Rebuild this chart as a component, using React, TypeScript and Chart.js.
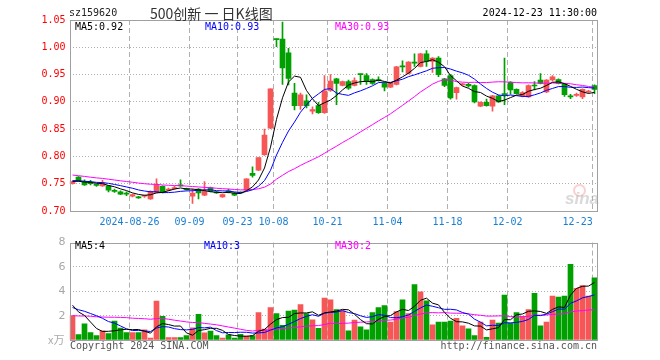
import React, { useEffect, useRef } from 'react';
import { Chart, registerables } from 'chart.js';

Chart.register(...registerables);

// ---------- data ----------
const dates = [
  '08-13','08-14','08-15','08-16','08-19','08-20','08-21','08-22','08-23','08-26','08-27','08-28','08-29','08-30',
  '09-02','09-03','09-04','09-05','09-06','09-09','09-10','09-11','09-12','09-13','09-18','09-19','09-20','09-23','09-24','09-25','09-26','09-27','09-30',
  '10-08','10-09','10-10','10-11','10-14','10-15','10-16','10-17','10-18','10-21','10-22','10-23','10-24','10-25','10-28','10-29','10-30','10-31',
  '11-01','11-04','11-05','11-06','11-07','11-08','11-11','11-12','11-13','11-14','11-15','11-18','11-19','11-20','11-21','11-22','11-25','11-26','11-27','11-28','11-29',
  '12-02','12-03','12-04','12-05','12-06','12-09','12-10','12-11','12-12','12-13','12-16','12-17','12-18','12-19','12-20','12-23',
];

const opens = [
  0.750,0.762,0.753,0.752,0.749,0.746,0.746,0.738,0.735,0.733,
  0.727,0.725,0.727,0.722,0.734,0.745,0.738,0.741,0.748,0.741,
  0.727,0.740,0.729,0.743,0.735,0.726,0.736,0.733,0.734,0.738,
  0.769,0.775,0.803,0.852,1.015,1.015,0.990,0.916,0.893,0.902,
  0.883,0.893,0.880,0.921,0.942,0.930,0.937,0.930,0.951,0.948,
  0.941,0.940,0.934,0.927,0.932,0.965,0.952,0.972,0.965,0.988,
  0.974,0.980,0.942,0.948,0.917,0.931,0.932,0.930,0.892,0.899,
  0.892,0.911,0.915,0.936,0.923,0.911,0.909,0.930,0.940,0.918,
  0.940,0.941,0.933,0.910,0.912,0.909,0.918,0.930,
];
const highs = [
  0.755,0.763,0.757,0.756,0.750,0.756,0.747,0.740,0.737,0.735,
  0.731,0.727,0.729,0.737,0.759,0.746,0.742,0.745,0.757,0.742,
  0.740,0.741,0.754,0.744,0.736,0.731,0.740,0.734,0.735,0.759,
  0.781,0.798,0.850,0.924,1.015,1.046,0.998,0.934,0.916,0.913,
  0.891,0.899,0.948,0.950,0.943,0.938,0.940,0.944,0.951,0.952,
  0.942,0.946,0.936,0.936,0.965,0.975,0.974,0.988,0.989,0.994,
  0.981,0.983,0.943,0.950,0.927,0.934,0.934,0.931,0.900,0.905,
  0.912,0.912,0.980,0.937,0.924,0.919,0.931,0.937,0.952,0.941,
  0.948,0.942,0.934,0.914,0.916,0.924,0.921,0.931,
];
const lows = [
  0.749,0.754,0.747,0.748,0.745,0.745,0.735,0.734,0.730,0.728,
  0.726,0.723,0.725,0.721,0.733,0.733,0.737,0.740,0.745,0.738,
  0.714,0.722,0.728,0.735,0.732,0.725,0.733,0.728,0.732,0.737,
  0.762,0.774,0.802,0.851,1.001,0.932,0.931,0.885,0.886,0.889,
  0.878,0.879,0.879,0.919,0.895,0.929,0.923,0.929,0.932,0.932,
  0.932,0.938,0.920,0.926,0.931,0.955,0.951,0.965,0.964,0.965,
  0.954,0.946,0.928,0.905,0.905,0.930,0.927,0.898,0.891,0.892,
  0.883,0.899,0.895,0.914,0.914,0.909,0.908,0.922,0.933,0.917,
  0.938,0.933,0.910,0.906,0.910,0.906,0.916,0.915,
];
const closes = [
  0.754,0.755,0.748,0.750,0.747,0.751,0.738,0.736,0.731,0.731,
  0.730,0.724,0.728,0.736,0.748,0.734,0.740,0.743,0.746,0.739,
  0.733,0.733,0.736,0.736,0.733,0.730,0.735,0.729,0.733,0.759,
  0.765,0.798,0.839,0.924,1.014,0.962,0.943,0.893,0.913,0.893,
  0.886,0.880,0.920,0.938,0.934,0.937,0.925,0.939,0.950,0.937,
  0.934,0.939,0.927,0.935,0.964,0.964,0.973,0.971,0.988,0.974,
  0.980,0.950,0.930,0.907,0.926,0.932,0.929,0.900,0.899,0.893,
  0.911,0.900,0.913,0.922,0.915,0.917,0.930,0.929,0.934,0.940,
  0.946,0.934,0.913,0.909,0.913,0.923,0.919,0.923,
];
// volumes (万)
const volumes = [
  2.0,0.45,1.32,0.6,0.37,0.76,0.53,1.55,0.97,0.6,
  0.6,0.6,0.84,0.16,3.2,1.95,0.2,0.2,0.2,0.37,
  1.0,2.1,0.58,0.74,0.37,0.16,0.42,0.16,0.47,0.32,
  0.37,2.26,0.9,2.66,2.18,1.21,2.37,2.45,2.9,2.18,
  1.66,0.95,3.45,3.29,2.5,2.4,0.76,1.63,1.08,0.84,
  2.26,2.66,2.82,1.47,2.34,3.29,2.18,4.55,3.95,3.21,
  1.24,1.47,1.47,1.55,1.79,1.16,0.92,0.37,1.47,0.21,
  1.63,1.4,3.68,1.4,2.26,1.95,2.5,3.84,1.16,1.47,
  3.61,3.53,3.61,6.21,4.24,4.47,3.61,5.1,
];
// sessions before the visible window (needed for the moving averages)
const priorCloses = [
  0.790,0.788,0.792,0.785,0.780,0.783,0.778,0.775,0.772,0.770,0.768,0.765,
  0.762,0.760,0.763,0.758,0.755,0.757,0.760,0.758,
  0.756,0.759,0.757,0.760,0.755,0.752,0.756,0.753,0.755,
];
const priorVolumes = [
  1.2,1.5,1.1,1.8,1.3,1.0,1.6,1.4,1.2,1.9,1.3,1.5,1.4,1.6,1.3,
  2.4,2.6,2.3,2.5,2.4,
  2.3,2.6,2.4,2.2,
  2.9,3.2,2.8,3.3,3.0,
];

const tickDates = ['08-26','09-09','09-23','10-08','10-21','11-04','11-18','12-02','12-23'];
const tickLabels = ['2024-08-26','09-09','09-23','10-08','10-21','11-04','11-18','12-02','12-23'];
const priceTicks = [0.70,0.75,0.80,0.85,0.90,0.95,1.00,1.05];
const volumeTicks = [0,2,4,6,8];

// ---------- styles ----------
const RED = '#f65656';
const GREEN = '#00a000';
const GRID = '#b0b0b0';
const FRAME = '#a0a0a0';
const MONO = '"DejaVu Sans Mono", monospace';

function movingAverage(values: number[], prior: number[], n: number): number[] {
  const all = prior.concat(values);
  return values.map((_, i) => {
    const end = prior.length + i + 1;
    const slice = all.slice(Math.max(0, end - n), end);
    return slice.reduce((a, b) => a + b, 0) / slice.length;
  });
}

const isUp = (i: number) => closes[i] >= opens[i];
const candleColors = dates.map((_, i) => (isUp(i) ? RED : GREEN));

const ma5 = movingAverage(closes, priorCloses, 5);
const ma10 = movingAverage(closes, priorCloses, 10);
const ma30 = movingAverage(closes, priorCloses, 30);
const vma5 = movingAverage(volumes, priorVolumes, 5);
const vma10 = movingAverage(volumes, priorVolumes, 10);
const vma30 = movingAverage(volumes, priorVolumes, 30);

const framePlugin = {
  id: 'frame',
  afterDraw(chart: any) {
    const { ctx, chartArea: a } = chart;
    ctx.save();
    ctx.strokeStyle = FRAME;
    ctx.lineWidth = 1;
    ctx.strokeRect(Math.round(a.left) + 0.5, Math.round(a.top) + 0.5, Math.round(a.right - a.left) - 1, Math.round(a.bottom - a.top));
    ctx.restore();
  },
};

function xScale(showLabels: boolean) {
  const max = dates.length - 0.5;
  return {
    type: 'linear',
    min: -0.5,
    max,
    offset: false,
    afterBuildTicks: (scale: any) => {
      scale.ticks = [{ value: -0.5 }].concat(
        tickDates.map((d) => ({ value: Math.min(dates.indexOf(d) + 0.5, max - 0.8) }))
      );
    },
    ticks: {
      display: showLabels,
      autoSkip: false,
      maxRotation: 0,
      minRotation: 0,
      align: 'inner',
      color: '#1a7fd4',
      font: { family: MONO, size: 10 },
      padding: 5,
      callback: (_v: any, i: number) => (i === 0 ? '' : tickLabels[i - 1]),
    },
    grid: {
      offset: false,
      drawTicks: false,
      color: (ctx: any) => (ctx.index === 0 ? 'rgba(0,0,0,0)' : GRID),
    },
    border: { display: false, dash: [5, 3] },
    afterFit: (scale: any) => {
      scale.height = showLabels ? 21 : 0;
    },
  };
}

function lineDs(data: number[], color: string) {
  return {
    type: 'line',
    data: data.map((y, i) => ({ x: i, y })),
    borderColor: color,
    borderWidth: 1,
    pointRadius: 0,
    tension: 0,
    order: 0,
  };
}

const textBase: React.CSSProperties = {
  position: 'absolute',
  whiteSpace: 'pre',
  fontFamily: MONO,
  fontSize: 10,
  lineHeight: '12px',
};

export default function App() {
  const priceRef = useRef<HTMLCanvasElement>(null);
  const volRef = useRef<HTMLCanvasElement>(null);

  useEffect(() => {
    const price = new Chart(priceRef.current as HTMLCanvasElement, {
      type: 'bar',
      data: {
        datasets: [
          lineDs(ma5, '#000000'),
          lineDs(ma10, '#0000ff'),
          lineDs(ma30, '#ff00ff'),
          {
            type: 'bar',
            data: dates.map((_, i) => ({ x: i, y: [Math.min(opens[i], closes[i]), Math.max(opens[i], closes[i])] })),
            backgroundColor: candleColors,
            barThickness: 5,
            minBarLength: 1,
            grouped: false,
            order: 1,
          },
          {
            type: 'bar',
            data: dates.map((_, i) => ({ x: i, y: [lows[i], highs[i]] })),
            backgroundColor: candleColors,
            barThickness: 1,
            minBarLength: 1,
            grouped: false,
            order: 2,
          },
        ] as any,
      },
      options: {
        responsive: false,
        animation: false,
        devicePixelRatio: 1,
        events: [],
        layout: { padding: { left: 0, right: 62.5, top: 20, bottom: 0 } },
        plugins: { legend: { display: false }, tooltip: { enabled: false } },
        scales: {
          x: xScale(true) as any,
          y: {
            type: 'linear',
            min: 0.7,
            max: 1.05,
            afterBuildTicks: (scale: any) => {
              scale.ticks = priceTicks.map((v) => ({ value: v }));
            },
            afterFit: (scale: any) => {
              scale.width = 69.5;
            },
            ticks: {
              color: '#ff0000',
              font: { family: MONO, size: 10 },
              padding: 4,
              callback: (v: any) => Number(v).toFixed(2),
            },
            grid: {
              drawTicks: false,
              color: (ctx: any) =>
                ctx.index === 0 || ctx.index === priceTicks.length - 1 ? 'rgba(0,0,0,0)' : GRID,
            },
            border: { display: false, dash: [1, 2] },
          },
        },
      },
      plugins: [framePlugin],
    });

    const vol = new Chart(volRef.current as HTMLCanvasElement, {
      type: 'bar',
      data: {
        datasets: [
          lineDs(vma5, '#000000'),
          lineDs(vma10, '#0000ff'),
          lineDs(vma30, '#ff00ff'),
          {
            type: 'bar',
            data: volumes.map((v, i) => ({ x: i, y: v })),
            backgroundColor: candleColors,
            barThickness: 5,
            grouped: false,
            order: 1,
          },
        ] as any,
      },
      options: {
        responsive: false,
        animation: false,
        devicePixelRatio: 1,
        events: [],
        layout: { padding: { left: 0, right: 62.5, top: 8, bottom: 20 } },
        plugins: { legend: { display: false }, tooltip: { enabled: false } },
        scales: {
          x: xScale(false) as any,
          y: {
            type: 'linear',
            min: 0,
            max: 8,
            afterBuildTicks: (scale: any) => {
              scale.ticks = volumeTicks.map((v) => ({ value: v }));
            },
            afterFit: (scale: any) => {
              scale.width = 69.5;
            },
            ticks: {
              color: '#a8a8a8',
              font: { family: '"DejaVu Sans", sans-serif', size: 11 },
              padding: 4,
              callback: (v: any) => (Number(v) === 0 ? '' : String(v)),
            },
            grid: {
              drawTicks: false,
              color: (ctx: any) =>
                ctx.index === 0 || ctx.index === volumeTicks.length - 1 ? 'rgba(0,0,0,0)' : GRID,
            },
            border: { display: false, dash: [1, 2] },
          },
        },
      },
      plugins: [framePlugin],
    });

    return () => {
      price.destroy();
      vol.destroy();
    };
  }, []);

  const last = dates.length - 1;

  return (
    <div
      style={{
        position: 'fixed',
        left: 0,
        top: 0,
        width: 660,
        height: 360,
        background: '#ffffff',
        overflow: 'hidden',
      }}
    >
      <canvas ref={priceRef} width={660} height={232} style={{ position: 'absolute', left: 0, top: 0 }} />
      <canvas ref={volRef} width={660} height={128} style={{ position: 'absolute', left: 0, top: 232 }} />

      <div style={{ ...textBase, left: 69, top: 7, color: '#222' }}>sz159620</div>
      <div
        style={{
          ...textBase,
          left: 150,
          top: 5,
          fontFamily: '"Noto Sans CJK SC", sans-serif',
          fontSize: 14,
          lineHeight: '16px',
          color: '#333',
        }}
      >
        500创新 一 日K线图
      </div>
      <div style={{ ...textBase, right: 63, top: 7, color: '#000' }}>2024-12-23 11:30:00</div>

      <div style={{ ...textBase, left: 75, top: 21, color: '#000' }}>{`MA5:${ma5[last].toFixed(2)}`}</div>
      <div style={{ ...textBase, left: 205, top: 21, color: '#0000ff' }}>{`MA10:${ma10[last].toFixed(2)}`}</div>
      <div style={{ ...textBase, left: 335, top: 21, color: '#ff00ff' }}>{`MA30:${ma30[last].toFixed(2)}`}</div>

      <div
        style={{
          position: 'absolute',
          left: 573,
          top: 184,
          width: 9,
          height: 9,
          borderRadius: '50%',
          border: '2px solid rgba(240,120,120,0.35)',
        }}
      />
      <div
        style={{
          position: 'absolute',
          left: 565,
          top: 190,
          fontFamily: '"Liberation Sans", sans-serif',
          fontStyle: 'italic',
          fontWeight: 'bold',
          fontSize: 17,
          lineHeight: '17px',
          color: 'rgba(170,170,170,0.45)',
        }}
      >
        sina
      </div>

      <div style={{ ...textBase, left: 75, top: 240, color: '#000' }}>{`MA5:${Math.floor(vma5[last])}`}</div>
      <div style={{ ...textBase, left: 204, top: 240, color: '#0000ff' }}>{`MA10:${Math.floor(vma10[last])}`}</div>
      <div style={{ ...textBase, left: 335, top: 240, color: '#ff00ff' }}>{`MA30:${Math.floor(vma30[last])}`}</div>

      <div
        style={{
          ...textBase,
          left: 48,
          top: 333,
          fontFamily: '"Noto Sans CJK SC", sans-serif',
          fontSize: 11,
          lineHeight: '12px',
          color: '#aaa',
        }}
      >
        x万
      </div>
      <div style={{ ...textBase, left: 70, top: 340, color: '#555' }}>Copyright 2024 SINA.COM</div>
      <div style={{ ...textBase, right: 63, top: 340, color: '#555' }}>http://finance.sina.com.cn</div>
    </div>
  );
}
